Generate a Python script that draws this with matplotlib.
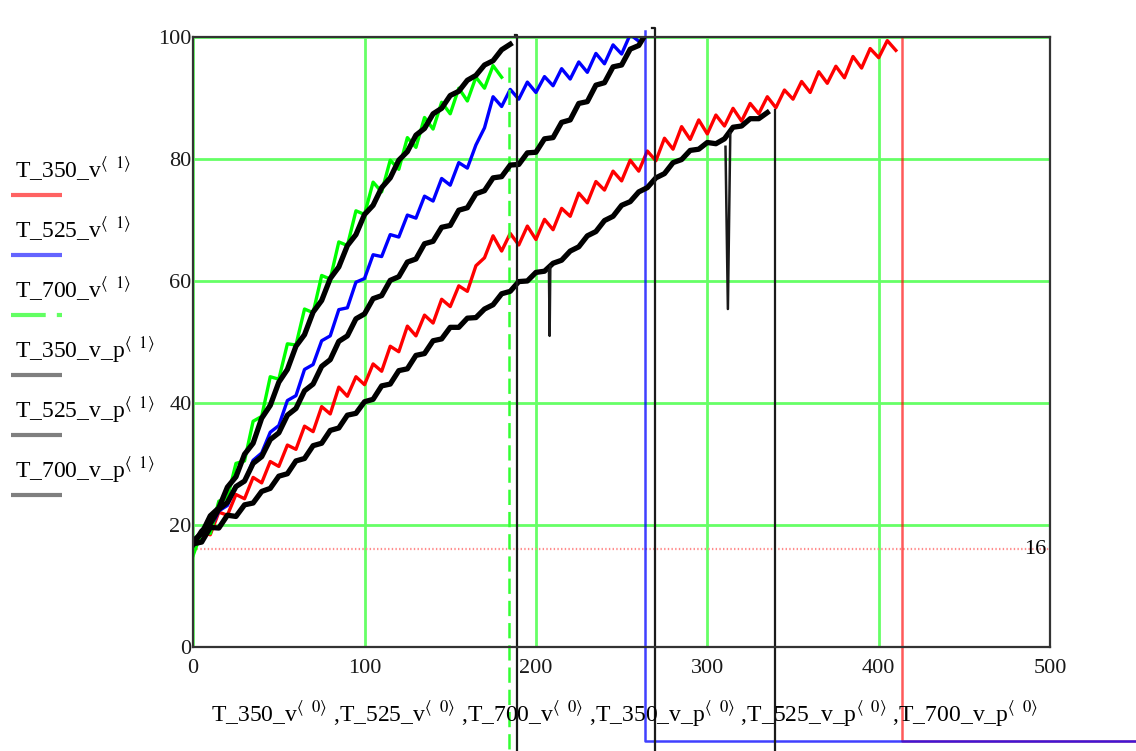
import numpy as np
import matplotlib
matplotlib.use('Agg')
import matplotlib.pyplot as plt
from matplotlib.lines import Line2D

# Mathcad-like look: Times-style text, explicit dash lengths
plt.rcParams['font.family'] = ['Liberation Serif', 'DejaVu Serif']
plt.rcParams['mathtext.fontset'] = 'stix'
plt.rcParams['lines.scale_dashes'] = False

# ---------------------- data ----------------------
t_350_v_x = np.arange(0, 415, 5)
t_350_v_y = [16.2, 18.9, 18.4, 22.1, 21.6, 25.0, 24.3, 27.8, 26.9, 30.4,
             29.6, 33.1, 32.4, 36.2, 35.3, 39.4, 38.2, 42.6, 41.1, 44.3,
             43.0, 46.4, 45.2, 49.3, 48.4, 52.6, 51.0, 54.4, 53.1, 57.0,
             55.8, 59.2, 58.3, 62.5, 63.8, 67.4, 64.9, 67.8, 65.9, 69.0,
             66.8, 70.1, 68.4, 71.9, 70.6, 74.4, 72.8, 76.3, 74.9, 78.0,
             76.4, 79.8, 78.0, 81.3, 79.7, 83.4, 81.6, 85.3, 83.2, 86.4,
             84.1, 87.2, 85.4, 88.3, 86.2, 89.1, 87.4, 90.2, 88.4, 91.3,
             89.8, 92.7, 90.9, 94.3, 92.4, 95.2, 93.3, 96.8, 94.9, 98.1,
             96.6, 99.4, 97.8]
t_350_v_tail_x = [413.6, 413.6, 600]
t_350_v_tail_y = [100.0, -15.4, -15.4]

t_525_v_x = np.arange(0, 265, 5)
t_525_v_y = [16.5, 18.6, 19.4, 22.3, 23.2, 26.4, 27.1, 30.6, 31.8, 35.2,
             36.3, 40.4, 41.2, 45.5, 46.3, 50.2, 51.0, 55.3, 55.6, 59.8,
             60.4, 64.3, 64.0, 67.6, 67.2, 70.8, 70.3, 73.9, 73.1, 76.8,
             75.7, 79.4, 78.5, 82.3, 85.1, 90.2, 88.6, 91.4, 89.8, 92.6,
             90.9, 93.5, 92.0, 94.8, 93.1, 95.9, 94.2, 97.3, 95.6, 98.7,
             97.2, 100.4, 99.3]
t_525_v_tail_x = [263.7, 263.7, 600]
t_525_v_tail_y = [101.0, -15.4, -15.4]

t_700_v_x = np.arange(0, 185, 5)
t_700_v_y = [15.0, 18.9, 18.6, 23.9, 24.4, 30.1, 30.5, 37.0, 37.8, 44.3,
             43.9, 49.7, 49.5, 55.4, 54.8, 60.9, 60.3, 66.4, 65.8, 71.5,
             70.9, 76.2, 74.6, 79.8, 78.3, 83.5, 81.9, 86.8, 84.9, 89.3,
             87.4, 91.6, 89.5, 93.4, 91.6, 95.3, 93.4]
t_700_v_tail_x = [184.4, 184.4]
t_700_v_tail_y = [95.0, -20.0]

t_350_v_p_x = np.arange(0, 340, 5)
t_350_v_p_y = [16.9, 17.2, 19.6, 19.5, 21.6, 21.4, 23.3, 23.6, 25.5, 26.0,
               28.0, 28.4, 30.5, 30.9, 33.0, 33.4, 35.5, 35.9, 38.0, 38.3,
               40.2, 40.6, 42.8, 43.1, 45.3, 45.6, 47.8, 48.1, 50.2, 50.5,
               52.4, 52.4, 53.9, 54.0, 55.4, 56.1, 57.9, 58.3, 59.9, 60.0,
               61.4, 61.6, 62.9, 63.4, 64.9, 65.6, 67.4, 68.1, 69.9, 70.6,
               72.4, 73.0, 74.6, 75.3, 76.9, 77.6, 79.4, 79.9, 81.4, 81.6,
               82.7, 82.5, 83.3, 85.2, 85.4, 86.6, 86.6, 87.6]
# two short drop-outs in this series (each: before, bottom, after)
spike1_x = [207.6, 208.0, 208.4]
spike1_y = [61.8, 51.0, 62.4]
spike2_x = [310.6, 312.0, 313.4]
spike2_y = [82.0, 55.4, 84.2]
t_350_v_p_tail_x = [339.6, 339.6]
t_350_v_p_tail_y = [88.0, -20.0]

t_525_v_p_x = np.arange(0, 270, 5)
t_525_v_p_y = [16.8, 19.0, 20.2, 22.6, 23.7, 26.3, 27.2, 30.1, 31.2, 34.0,
               35.1, 38.0, 39.1, 42.0, 43.1, 46.0, 47.1, 50.1, 51.0, 53.8,
               54.6, 57.1, 57.6, 60.1, 60.7, 63.1, 63.6, 66.1, 66.5, 68.8,
               69.1, 71.6, 72.0, 74.3, 74.8, 76.9, 77.1, 79.0, 79.1, 81.0,
               81.1, 83.3, 83.5, 86.0, 86.4, 89.1, 89.4, 92.1, 92.5, 95.1,
               95.4, 98.0, 98.6, 100.9]
t_525_v_p_tail_x = [268.0, 269.5, 269.5]
t_525_v_p_tail_y = [101.5, 101.5, -20.0]

t_700_v_p_x = np.arange(0, 190, 5)
t_700_v_p_y = [17.4, 18.6, 21.5, 22.8, 26.2, 27.9, 31.6, 33.4, 37.5, 39.6,
               43.4, 45.5, 49.3, 51.2, 54.9, 56.8, 60.4, 62.3, 65.8, 67.6,
               70.9, 72.4, 75.3, 76.9, 79.8, 81.2, 83.9, 85.0, 87.4, 88.3,
               90.4, 91.1, 92.9, 93.7, 95.4, 96.1, 97.9, 98.8]
t_700_v_p_tail_x = [188.0, 189.0, 189.0]
t_700_v_p_tail_y = [100.3, 100.3, -20.0]

marker_level = 16
x_ticks = [0, 100, 200, 300, 400, 500]
y_ticks = [0, 20, 40, 60, 80, 100]

legend_names = ['T_350_v', 'T_525_v', 'T_700_v', 'T_350_v_p', 'T_525_v_p', 'T_700_v_p']
legend_colors = ['#ff6262', '#6464ff', '#62ff62', '#7f7f7f', '#7f7f7f', '#7f7f7f']

# ---------------------- figure ----------------------
fig = plt.figure(figsize=(11.36, 7.51), dpi=100)
ax = fig.add_axes([0.170, 0.1385, 0.7544, 0.8123])

ax.set_xlim(0, 500)
ax.set_ylim(0, 100)
ax.set_xticks(x_ticks)
ax.set_yticks(y_ticks)
ax.tick_params(length=0, labelsize=16, colors='#1a1a1a')
ax.tick_params(axis='x', pad=9)
ax.tick_params(axis='y', pad=1)
ax.grid(True, color='#66ff66', lw=2.0, zorder=0)
ax.set_axisbelow(True)
for sp in ax.spines.values():
    sp.set_color('#333333')
    sp.set_linewidth(1.6)
    sp.set_zorder(5)

# red dotted marker at 16
ax.axhline(marker_level, color='#ff8c8c', lw=1.6, ls=':', zorder=1)
ax.text(498, marker_level, str(marker_level), ha='right', va='center', fontsize=16)

# coloured traces
ax.plot(t_350_v_x, t_350_v_y, color='#ff0000', lw=2.4, zorder=2)
ax.plot(t_350_v_tail_x, t_350_v_tail_y, color='#ff0000', lw=1.8, alpha=0.65,
        clip_on=False, zorder=2)
ax.plot(t_525_v_x, t_525_v_y, color='#0000ff', lw=2.4, zorder=2)
ax.plot(t_525_v_tail_x, t_525_v_tail_y, color='#0000ff', lw=1.8, alpha=0.75,
        clip_on=False, zorder=2)
ax.plot(t_700_v_x, t_700_v_y, color='#00ff00', lw=2.4, zorder=2)
ax.plot(t_700_v_tail_x, t_700_v_tail_y, color='#33ff33', lw=1.8, dashes=(11, 5),
        clip_on=False, zorder=2)

# black traces (drawn last, on top)
ax.plot(t_350_v_p_x, t_350_v_p_y, color='black', lw=3.8, zorder=3)
ax.plot(spike1_x, spike1_y, color='#1a1a1a', lw=1.8, zorder=3)
ax.plot(spike2_x, spike2_y, color='#1a1a1a', lw=1.8, zorder=3)
ax.plot(t_525_v_p_x, t_525_v_p_y, color='black', lw=3.8, zorder=3)
ax.plot(t_700_v_p_x, t_700_v_p_y, color='black', lw=3.8, zorder=3)
for tx, ty in [(t_350_v_p_tail_x, t_350_v_p_tail_y),
               (t_525_v_p_tail_x, t_525_v_p_tail_y),
               (t_700_v_p_tail_x, t_700_v_p_tail_y)]:
    ax.plot(tx, ty, color='#1a1a1a', lw=1.6, clip_on=False, zorder=3)

# x axis caption, Mathcad style
sup0 = r'$^{\langle\ \ 0\rangle}$'
xlabel = ' ,'.join(n + sup0 for n in legend_names)
fig.text(625 / 1136, 1 - 722 / 751, xlabel, ha='center', va='baseline', fontsize=17)

# legend on the left
sup1 = r'$^{\langle\ \ 1\rangle}$'
for i, (name, col) in enumerate(zip(legend_names, legend_colors)):
    y_txt = 1 - (178 + 60 * i) / 751
    y_line = 1 - (195 + 60 * i) / 751
    fig.text(15 / 1136, y_txt, name + sup1, ha='left', va='baseline', fontsize=17)
    if name == 'T_700_v':
        ln = Line2D([11 / 1136, 62 / 1136], [y_line, y_line], transform=fig.transFigure,
                    color=col, lw=3, dashes=(25, 8), solid_capstyle='butt')
    else:
        ln = Line2D([11 / 1136, 62 / 1136], [y_line, y_line], transform=fig.transFigure,
                    color=col, lw=3, solid_capstyle='butt')
    fig.add_artist(ln)

fig.savefig('out.png', dpi=100)
